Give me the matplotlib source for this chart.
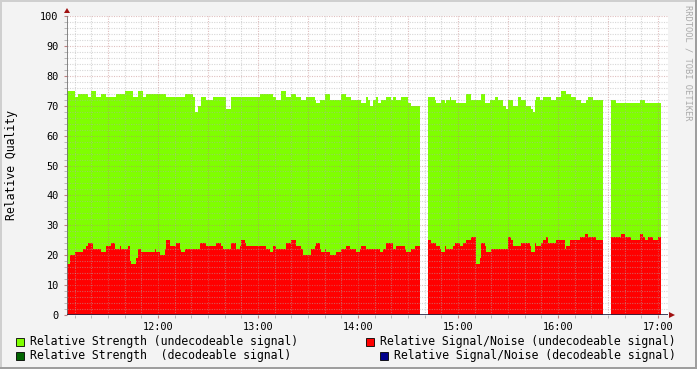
import numpy as np
import matplotlib
matplotlib.use("Agg")
import matplotlib.pyplot as plt
from matplotlib.patches import Rectangle, Polygon

# time in minutes since midnight where each step starts, value held until next start
END_MIN = 1022
strength_t = [665, 670, 672, 678, 680, 683, 686, 689, 695, 700, 705, 708, 711, 713,
              725, 736, 741, 742, 744, 746, 749, 753, 761, 764, 781, 789, 791, 794,
              797, 800, 803, 806, 809, 814, 815, 817, 820, 823, 830, 833, 836, 842,
              845, 846, 847, 849, 851, 852, 854, 857, 860, 861, 863, 866, 870, 872,
              877, 882, 886, 887, 890, 892, 893, 895, 896, 899, 905, 908, 914, 916,
              919, 922, 924, 927, 929, 930, 933, 936, 938, 941, 944, 945, 946, 947,
              949, 951, 956, 959, 962, 965, 968, 971, 974, 977, 978, 981, 987, 992,
              995, 1009, 1012]
strength_v = [75, 73, 74, 73, 75, 73, 74, 73, 74, 75, 73, 75, 73, 74,
              73, 74, 73, 68, 70, 73, 72, 73, 69, 73, 74, 73, 72, 75,
              73, 74, 73, 72, 73, 72, 71, 72, 74, 72, 74, 73, 72, 71,
              73, 72, 70, 72, 73, 71, 72, 73, 72, 73, 72, 73, 71, 70,
              np.nan, 73, 72, 71, 72, 71, 72, 73, 72, 71, 74, 72, 74, 71,
              72, 73, 72, 70, 69, 72, 70, 73, 72, 70, 69, 68, 72, 73,
              72, 73, 72, 73, 75, 74, 73, 72, 71, 72, 73, 72, np.nan, 72,
              71, 72, 71]

snr_t = [665, 667, 670, 675, 677, 678, 681, 686, 689, 692, 694, 697, 698, 702,
         703, 704, 707, 708, 710, 718, 719, 721, 724, 725, 727, 731, 733, 734,
         736, 745, 749, 755, 758, 759, 764, 767, 769, 770, 772, 773, 785, 787,
         789, 791, 797, 800, 803, 806, 807, 812, 814, 815, 817, 818, 820, 821,
         823, 827, 830, 833, 835, 839, 841, 842, 845, 853, 855, 857, 861, 863,
         868, 869, 872, 874, 877, 882, 884, 887, 889, 890, 892, 893, 897, 898,
         901, 903, 905, 908, 911, 913, 914, 916, 917, 920, 930, 932, 933, 938,
         943, 944, 946, 947, 950, 951, 953, 954, 959, 964, 965, 967, 973, 976,
         978, 983, 987, 992, 998, 1000, 1004, 1009, 1011, 1012, 1014, 1017, 1020]
snr_v = [17, 20, 21, 22, 23, 24, 22, 21, 23, 24, 22, 23, 22, 23,
         18, 17, 19, 22, 21, 22, 21, 20, 22, 25, 23, 24, 22, 21,
         22, 24, 23, 24, 23, 22, 24, 22, 23, 25, 24, 23, 22, 21,
         23, 22, 24, 25, 23, 22, 20, 22, 23, 24, 22, 21, 22, 21,
         20, 21, 22, 23, 22, 21, 22, 23, 22, 21, 22, 24, 22, 23,
         22, 21, 22, 23, np.nan, 25, 24, 23, 22, 21, 23, 22, 23, 24,
         23, 24, 25, 26, 17, 19, 24, 23, 21, 22, 26, 25, 23, 24,
         23, 21, 24, 23, 24, 25, 26, 24, 25, 22, 23, 25, 26, 27,
         26, 25, np.nan, 26, 27, 26, 25, 27, 26, 25, 26, 25, 26]

hour_ticks = [720, 780, 840, 900, 960, 1020]
hour_labels = ["12:00", "13:00", "14:00", "15:00", "16:00", "17:00"]

legend_labels = ["Relative Strength (undecodeable signal)",
                 "Relative Signal/Noise (undecodeable signal)",
                 "Relative Strength  (decodeable signal)",
                 "Relative Signal/Noise (decodeable signal)"]
legend_colors = ["#7FFF00", "#FF0000", "#006400", "#00008B"]

W, H = 697, 369
fig = plt.figure(figsize=(W / 100, H / 100), dpi=100)
fig.patch.set_facecolor("#F3F3F3")

# frame shading like rrdtool
fig.patches.append(Rectangle((0, 1 - 2 / H), 1, 2 / H, transform=fig.transFigure, color="#CFCFCF", lw=0))
fig.patches.append(Rectangle((0, 0), 2 / W, 1, transform=fig.transFigure, color="#CFCFCF", lw=0))
fig.patches.append(Rectangle((0, 0), 1, 2 / H, transform=fig.transFigure, color="#9E9E9E", lw=0))
fig.patches.append(Rectangle((1 - 2 / W, 0), 2 / W, 1, transform=fig.transFigure, color="#9E9E9E", lw=0))

x0, x1 = 67, 668
y0, y1 = 315, 16
ax = fig.add_axes([x0 / W, (H - y0) / H, (x1 - x0) / W, (y0 - y1) / H])
ax.set_facecolor("white")
xmin = 665.4
xmax = xmin + (x1 - x0) * 0.6


def stepbars(t, v, color):
    t = np.array(t, float)
    v = np.array(v, float)
    widths = np.diff(np.append(t, END_MIN))
    ok = ~np.isnan(v)
    ax.bar(t[ok], v[ok], width=widths[ok], align="edge", color=color, lw=0, zorder=1)


stepbars(strength_t, strength_v, legend_colors[0])
stepbars(snr_t, snr_v, legend_colors[1])
ax.set_xlim(xmin, xmax)
ax.set_ylim(0, 100)

# grid on top of data
for y in range(2, 101, 2):
    major = y % 10 == 0
    ax.axhline(y, color="#C08080" if major else "#B0B0B0", alpha=0.5,
               lw=0.8, ls=(0, (1, 1.2)), zorder=3)
for m in range(670, 1030, 10):
    major = m % 30 == 0
    ax.axvline(m, color="#C08080" if major else "#B0B0B0", alpha=0.5,
               lw=0.8, ls=(0, (1, 1.2)), zorder=3)

for s in ax.spines.values():
    s.set_visible(False)
ax.axvline(xmin, color="#707070", lw=1.2, zorder=4)
ax.axhline(0, color="#202040", lw=1.2, zorder=4)

mono = "DejaVu Sans Mono"
ax.set_yticks(range(0, 101, 10))
ax.set_yticklabels([str(v) for v in range(0, 101, 10)], family=mono, fontsize=7.4)
ax.set_yticks(range(0, 101, 2), minor=True)
ax.set_xticks(hour_ticks)
ax.set_xticklabels(hour_labels, family=mono, fontsize=7.4)
ax.set_xticks(range(670, 1030, 10), minor=True)
ax.tick_params(axis="both", which="major", length=2, color="#C08080", pad=3)
ax.tick_params(axis="both", which="minor", length=2, color="#B0B0B0")
ax.tick_params(axis="y", pad=4)

# arrows at axis ends
fig.patches.append(Polygon([[(x0 - 3) / W, (H - 13) / H], [(x0 + 3) / W, (H - 13) / H],
                            [x0 / W, (H - 8) / H]], closed=True, transform=fig.transFigure,
                           color="#A01010", lw=0))
fig.patches.append(Polygon([[669 / W, (H - y0 - 3) / H], [669 / W, (H - y0 + 3) / H],
                            [675 / W, (H - y0) / H]], closed=True, transform=fig.transFigure,
                           color="#A01010", lw=0))

fig.text(12 / W, (H - 165) / H, "Relative Quality", rotation=90, family=mono,
         fontsize=8.3, ha="center", va="center")
fig.text(688 / W, (H - 5) / H, "RRDTOOL / TOBI OETIKER", rotation=270, family=mono,
         fontsize=6.3, ha="center", va="top", color="#AAAAAA")

# legend
legend_pos = [(16, 341), (366, 341), (16, 355), (380, 355)]
for (lx, ly), lab, col in zip(legend_pos, legend_labels, legend_colors):
    fig.patches.append(Rectangle((lx / W, (H - ly - 4.5) / H), 8 / W, 8 / H,
                                 transform=fig.transFigure, facecolor=col,
                                 edgecolor="black", lw=0.6))
    fig.text((lx + 14) / W, (H - ly) / H, lab, family=mono, fontsize=8.3,
             ha="left", va="center")

fig.savefig("out.png", dpi=100, facecolor=fig.get_facecolor())
